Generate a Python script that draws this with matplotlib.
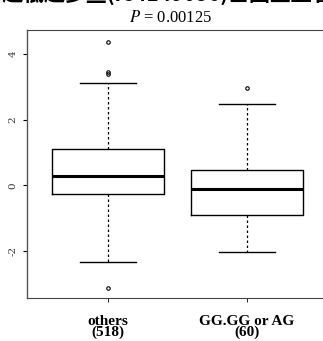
import matplotlib
matplotlib.use("Agg")
import matplotlib.pyplot as plt

plt.rcParams["mathtext.fontset"] = "stix"

# values
groups = ["others\n(518)", "GG.GG or AG\n(60)"]
q1 = [-0.27, -0.91]
med = [0.30, -0.12]
q3 = [1.12, 0.48]
whislo = [-2.33, -2.03]
whishi = [3.12, 2.48]
fliers = [[3.39, 3.45, 4.36, -3.12], [2.97]]
p_text = r"$P$ = 0.00125"

stats = []
for i in range(len(groups)):
    stats.append(dict(med=med[i], q1=q1[i], q3=q3[i], whislo=whislo[i],
                      whishi=whishi[i], fliers=fliers[i], label=groups[i]))

fig = plt.figure(figsize=(3.23, 3.41), dpi=100)
ax = fig.add_axes([27 / 323, 43 / 341, 301 / 323, 268 / 341])

ax.bxp(stats, positions=[1, 2], widths=0.8, showfliers=True,
       boxprops=dict(color="black", lw=1.0),
       whiskerprops=dict(color="black", lw=0.9, linestyle=(0, (2, 2))),
       capprops=dict(color="black", lw=1.0),
       medianprops=dict(color="black", lw=2.2),
       flierprops=dict(marker="o", markersize=2.5, markerfacecolor="none",
                       markeredgecolor="black", markeredgewidth=0.8))

ax.set_xlim(0.417, 2.583)
ax.set_ylim(-3.42, 4.72)

for s in ["top", "bottom"]:
    ax.spines[s].set_linestyle((0, (1, 1)))
    ax.spines[s].set_color("#444444")
    ax.spines[s].set_linewidth(0.8)
ax.spines["left"].set_color("#555555")
ax.spines["left"].set_linewidth(1.0)
ax.spines["right"].set_visible(False)

ax.set_yticks([-2, 0, 2, 4])
ax.set_yticklabels(["-2", "0", "2", "4"], rotation=90, va="center",
                   family="DejaVu Serif", fontsize=7.5, color="#333333")
ax.tick_params(axis="y", length=3, width=0.8, pad=4)
ax.set_xticks([1, 2])
ax.set_xticklabels(groups, family="Liberation Serif", fontweight="bold",
                   fontsize=11, linespacing=0.8)
ax.tick_params(axis="x", length=3, width=0.6, pad=9)

fig.text(171 / 323, 1 - 18 / 341, p_text, ha="center", va="center",
         family="Liberation Serif", fontsize=12)

# partially cut-off heading from the source page
fig.text(0.5, 1.018, "p越低越多些(rs4149056)基因型显著", ha="center", va="center",
         family=["Noto Sans CJK SC", "DejaVu Sans"], fontweight="bold",
         fontsize=15)

fig.savefig("out.png", dpi=100)
